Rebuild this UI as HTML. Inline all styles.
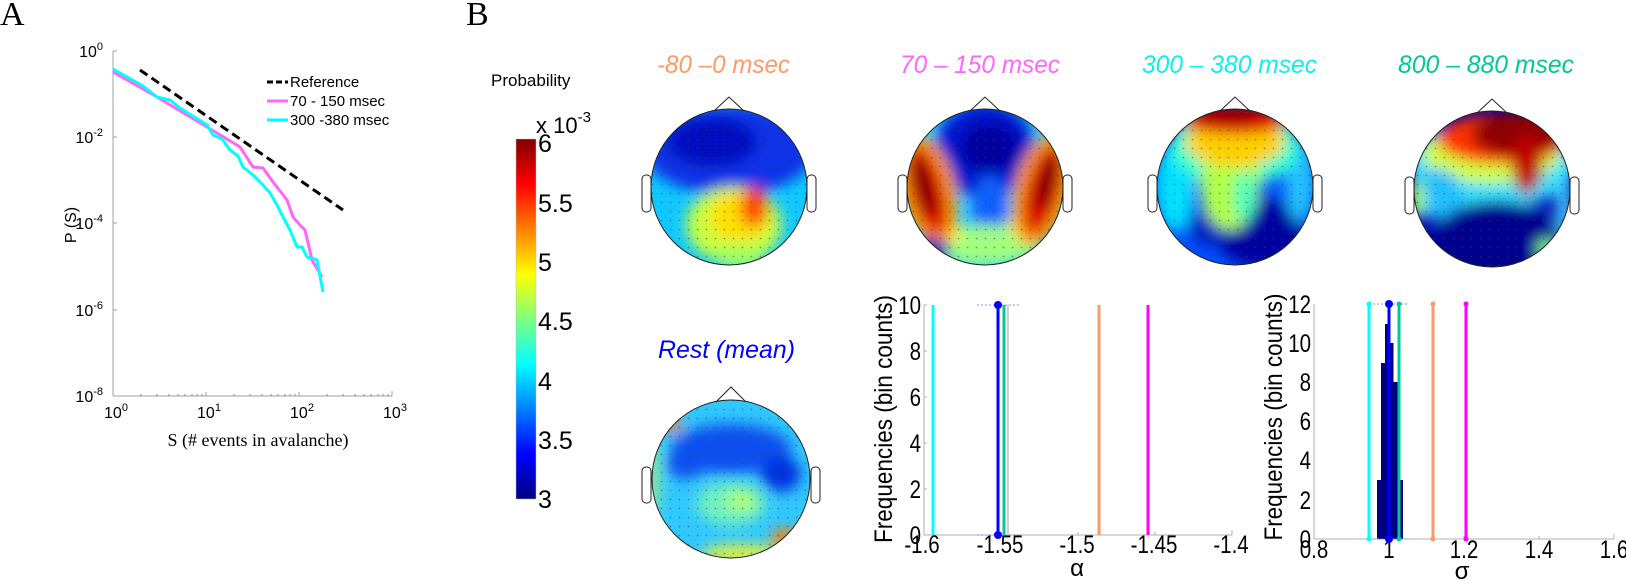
<!DOCTYPE html>
<html><head><meta charset="utf-8"><style>
html,body{margin:0;padding:0;background:#fff;}
svg{display:block;}
text{font-family:"Liberation Sans",sans-serif;}
.ser{font-family:"Liberation Serif",serif;}
.tt{font-family:"Liberation Serif",serif;font-style:italic;}
</style></head><body>
<svg width="1626" height="580" viewBox="0 0 1626 580" xmlns="http://www.w3.org/2000/svg">
<defs>
<linearGradient id="jet" x1="0" y1="1" x2="0" y2="0">
<stop offset="0" stop-color="#000080"/><stop offset="0.125" stop-color="#0000ff"/>
<stop offset="0.375" stop-color="#00ffff"/><stop offset="0.625" stop-color="#ffff00"/>
<stop offset="0.875" stop-color="#ff0000"/><stop offset="1" stop-color="#800000"/>
</linearGradient>
<filter id="bl" x="-30%" y="-30%" width="160%" height="160%"><feGaussianBlur stdDeviation="7"/></filter>
<pattern id="dots" width="9" height="9" patternUnits="userSpaceOnUse"><circle cx="4.5" cy="4.5" r="0.9" fill="#444" fill-opacity="0.55"/></pattern>
<clipPath id="c1"><circle cx="729" cy="187" r="78"/></clipPath>
<clipPath id="c2"><circle cx="985" cy="187" r="78"/></clipPath>
<clipPath id="c3"><circle cx="1235" cy="187" r="78"/></clipPath>
<clipPath id="c4"><circle cx="1492" cy="189" r="78"/></clipPath>
<clipPath id="c5"><circle cx="731" cy="479" r="79"/></clipPath>
</defs>

<!-- Panel A -->
<text x="0" y="25" class="ser" font-size="34">A</text>
<g stroke="#a0a0a0" stroke-width="1" fill="none">
<line x1="113" y1="51" x2="113" y2="396"/><line x1="113" y1="396" x2="392" y2="396"/>
<line x1="113" y1="51" x2="117" y2="51"/><line x1="113" y1="137" x2="117" y2="137"/><line x1="113" y1="223" x2="117" y2="223"/><line x1="113" y1="310" x2="117" y2="310"/>
<line x1="206" y1="396" x2="206" y2="392"/><line x1="299" y1="396" x2="299" y2="392"/><line x1="392" y1="396" x2="392" y2="391"/>
</g>
<g stroke="#888" stroke-width="1">
<line x1="141" y1="396" x2="141" y2="394"/><line x1="157" y1="396" x2="157" y2="394"/><line x1="169" y1="396" x2="169" y2="394"/><line x1="178" y1="396" x2="178" y2="394"/><line x1="185" y1="396" x2="185" y2="394"/><line x1="192" y1="396" x2="192" y2="394"/><line x1="197" y1="396" x2="197" y2="394"/><line x1="202" y1="396" x2="202" y2="394"/>
<line x1="234" y1="396" x2="234" y2="394"/><line x1="250" y1="396" x2="250" y2="394"/><line x1="262" y1="396" x2="262" y2="394"/><line x1="271" y1="396" x2="271" y2="394"/><line x1="278" y1="396" x2="278" y2="394"/><line x1="285" y1="396" x2="285" y2="394"/><line x1="290" y1="396" x2="290" y2="394"/><line x1="295" y1="396" x2="295" y2="394"/>
<line x1="327" y1="396" x2="327" y2="394"/><line x1="343" y1="396" x2="343" y2="394"/><line x1="355" y1="396" x2="355" y2="394"/><line x1="364" y1="396" x2="364" y2="394"/><line x1="371" y1="396" x2="371" y2="394"/><line x1="378" y1="396" x2="378" y2="394"/><line x1="383" y1="396" x2="383" y2="394"/><line x1="388" y1="396" x2="388" y2="394"/>
</g>
<g font-size="16" text-anchor="end">
<text x="103" y="57">10<tspan font-size="11" dy="-7">0</tspan></text>
<text x="103" y="143">10<tspan font-size="11" dy="-7">-2</tspan></text>
<text x="103" y="229">10<tspan font-size="11" dy="-7">-4</tspan></text>
<text x="103" y="316">10<tspan font-size="11" dy="-7">-6</tspan></text>
<text x="103" y="402">10<tspan font-size="11" dy="-7">-8</tspan></text>
</g>
<g font-size="16" text-anchor="middle">
<text x="116" y="418">10<tspan font-size="11" dy="-7">0</tspan></text>
<text x="209" y="418">10<tspan font-size="11" dy="-7">1</tspan></text>
<text x="302" y="418">10<tspan font-size="11" dy="-7">2</tspan></text>
<text x="395" y="418">10<tspan font-size="11" dy="-7">3</tspan></text>
</g>
<text x="258" y="446" class="ser" font-size="18" text-anchor="middle">S (# events in avalanche)</text>
<text transform="translate(76,225) rotate(-90)" font-size="16" text-anchor="middle">P (S)</text>
<line x1="140" y1="70" x2="343" y2="210" stroke="#000" stroke-width="3" stroke-dasharray="9,5"/>
<polyline fill="none" stroke="#ff66ff" stroke-width="3" points="113,72 157,97 207,127 240,147 253,167 263,168 273,182 287,200 293,217 300,225 305,230 312,260 322,277"/>
<polyline fill="none" stroke="#00ffff" stroke-width="3" points="113,69 143,86 157,97 170,100 180,108 207,125 213,135 222,139 230,150 238,156 243,167 253,175 263,185 270,193 277,205 283,217 290,230 297,247 302,247 307,257 315,259 317,260 323,292"/>
<line x1="267" y1="82" x2="288" y2="82" stroke="#000" stroke-width="3" stroke-dasharray="6,3"/>
<line x1="267" y1="101" x2="288" y2="101" stroke="#ff66ff" stroke-width="3"/>
<line x1="267" y1="120" x2="288" y2="120" stroke="#00ffff" stroke-width="3"/>
<g font-size="15"><text x="290" y="87">Reference</text><text x="290" y="106">70 - 150 msec</text><text x="290" y="125">300 -380 msec</text></g>

<!-- Panel B -->
<text x="466" y="25" class="ser" font-size="34">B</text>
<text x="491" y="86" font-size="17">Probability</text>
<text x="536" y="133" font-size="22">x 10<tspan font-size="15" dy="-11">-3</tspan></text>
<rect x="516" y="139" width="20" height="360" fill="url(#jet)" stroke="#bbb" stroke-width="0.5"/>
<g font-size="25">
<text x="538" y="152">6</text><text x="538" y="212">5.5</text><text x="538" y="271">5</text><text x="538" y="330">4.5</text><text x="538" y="390">4</text><text x="538" y="449">3.5</text><text x="538" y="508">3</text>
</g>

<!-- titles -->
<g class="tt" font-size="25">
<text x="657" y="73" fill="#ff9966" textLength="133" lengthAdjust="spacingAndGlyphs">-80 –0 msec</text>
<text x="900" y="73" fill="#ff66ff" textLength="160" lengthAdjust="spacingAndGlyphs">70 – 150 msec</text>
<text x="1142" y="73" fill="#11eeee" textLength="175" lengthAdjust="spacingAndGlyphs">300 – 380 msec</text>
<text x="1398" y="73" fill="#00c896" textLength="176" lengthAdjust="spacingAndGlyphs">800 – 880 msec</text>
<text x="658" y="358" fill="#0000ff" textLength="137" lengthAdjust="spacingAndGlyphs">Rest (mean)</text>
</g>

<!-- head 1 -->
<g clip-path="url(#c1)">
<rect x="640" y="100" width="180" height="180" fill="#10c8ff"/>
<g filter="url(#bl)">
<ellipse cx="729" cy="150" rx="85" ry="45" fill="#1030e8"/>
<ellipse cx="712" cy="142" rx="45" ry="25" fill="#0010c0"/>
<ellipse cx="734" cy="225" rx="48" ry="38" fill="#c8ff40"/>
<ellipse cx="739" cy="217" rx="30" ry="25" fill="#ffe000"/>
<ellipse cx="754" cy="207" rx="14" ry="20" fill="#ff5000"/>
<ellipse cx="757" cy="197" rx="7" ry="8" fill="#ff0000"/>
<ellipse cx="739" cy="257" rx="25" ry="12" fill="#a0ff60"/>
</g>
<rect x="640" y="100" width="180" height="180" fill="url(#dots)"/>
</g>
<!-- head 2 -->
<g clip-path="url(#c2)">
<rect x="900" y="100" width="180" height="180" fill="#20d0ff"/>
<g filter="url(#bl)">
<ellipse cx="985" cy="150" rx="50" ry="48" fill="#0018d0"/>
<ellipse cx="990" cy="148" rx="30" ry="25" fill="#0000a0"/>
<ellipse cx="990" cy="210" rx="18" ry="35" fill="#1060ff"/>
<ellipse cx="985" cy="245" rx="55" ry="20" fill="#a0ff80"/>
<ellipse cx="950" cy="232" rx="12" ry="10" fill="#ffff40"/>
<ellipse cx="1020" cy="225" rx="12" ry="10" fill="#ffff40"/>
<g transform="rotate(-15 927 190)"><ellipse cx="927" cy="190" rx="28" ry="58" fill="#ffa000"/><ellipse cx="927" cy="190" rx="17" ry="46" fill="#e00000"/><ellipse cx="925" cy="185" rx="9" ry="32" fill="#800000"/></g>
<g transform="rotate(15 1043 190)"><ellipse cx="1043" cy="190" rx="28" ry="58" fill="#ffa000"/><ellipse cx="1043" cy="190" rx="17" ry="46" fill="#e00000"/><ellipse cx="1045" cy="180" rx="9" ry="30" fill="#800000"/></g>
<ellipse cx="930" cy="250" rx="20" ry="12" fill="#0000c0"/>
</g>
<rect x="900" y="100" width="180" height="180" fill="url(#dots)"/>
</g>
<!-- head 3 -->
<g clip-path="url(#c3)">
<rect x="1150" y="100" width="180" height="180" fill="#0050ff"/>
<g filter="url(#bl)">
<ellipse cx="1260" cy="232" rx="45" ry="35" fill="#0000a0"/>
<ellipse cx="1210" cy="227" rx="20" ry="20" fill="#0020c0"/>
<ellipse cx="1175" cy="187" rx="20" ry="45" fill="#00e0ff"/>
<ellipse cx="1300" cy="182" rx="15" ry="40" fill="#20c0ff"/>
<ellipse cx="1235" cy="147" rx="65" ry="40" fill="#30ffd0"/>
<ellipse cx="1230" cy="182" rx="30" ry="48" fill="#b0ff50"/>
<ellipse cx="1235" cy="142" rx="50" ry="25" fill="#ffd000"/>
<ellipse cx="1235" cy="119" rx="55" ry="15" fill="#e00000"/>
<ellipse cx="1230" cy="112" rx="35" ry="10" fill="#900000"/>
<ellipse cx="1245" cy="197" rx="10" ry="25" fill="#40ffc0"/>
</g>
<rect x="1150" y="100" width="180" height="180" fill="url(#dots)"/>
</g>
<!-- head 4 -->
<g clip-path="url(#c4)">
<rect x="1405" y="100" width="180" height="180" fill="#0000b0"/>
<g filter="url(#bl)">
<ellipse cx="1492" cy="164" rx="85" ry="45" fill="#30e0ff"/>
<ellipse cx="1492" cy="154" rx="70" ry="30" fill="#d0ff40"/>
<ellipse cx="1502" cy="139" rx="65" ry="25" fill="#ff3000"/>
<ellipse cx="1517" cy="134" rx="45" ry="22" fill="#900000"/>
<ellipse cx="1527" cy="164" rx="15" ry="30" fill="#c00000"/>
<ellipse cx="1437" cy="194" rx="25" ry="25" fill="#20c0ff"/>
<ellipse cx="1417" cy="199" rx="8" ry="20" fill="#a0ff60"/>
<ellipse cx="1497" cy="241" rx="65" ry="40" fill="#00008f"/>
<ellipse cx="1564" cy="209" rx="8" ry="30" fill="#40d0ff"/>
<ellipse cx="1547" cy="249" rx="10" ry="10" fill="#80ff80"/>
</g>
<rect x="1405" y="100" width="180" height="180" fill="url(#dots)"/>
</g>
<!-- rest -->
<g clip-path="url(#c5)">
<rect x="645" y="395" width="180" height="180" fill="#30c8ff"/>
<g filter="url(#bl)">
<ellipse cx="731" cy="449" rx="60" ry="25" fill="#1050f0"/>
<ellipse cx="781" cy="474" rx="20" ry="18" fill="#0030e0"/>
<ellipse cx="686" cy="464" rx="20" ry="15" fill="#1050f0"/>
<ellipse cx="731" cy="504" rx="35" ry="22" fill="#70f0c0"/>
<ellipse cx="741" cy="501" rx="15" ry="10" fill="#b0ff70"/>
<ellipse cx="741" cy="554" rx="40" ry="10" fill="#e0f040"/>
<ellipse cx="786" cy="539" rx="15" ry="10" fill="#ff8000"/>
<ellipse cx="671" cy="424" rx="10" ry="8" fill="#ff8020"/>
<ellipse cx="653" cy="479" rx="6" ry="40" fill="#a0f080"/>
</g>
<rect x="645" y="395" width="180" height="180" fill="url(#dots)"/>
</g>
<!-- head outlines -->
<g fill="none" stroke="#222" stroke-width="1">
<circle cx="729" cy="187" r="78"/><polyline points="714,111 729,97 744,111"/><rect x="642" y="175" width="9" height="37" rx="4"/><rect x="807" y="175" width="9" height="37" rx="4"/>
<circle cx="985" cy="187" r="78"/><polyline points="970,111 985,97 1000,111"/><rect x="898" y="175" width="9" height="37" rx="4"/><rect x="1063" y="175" width="9" height="37" rx="4"/>
<circle cx="1235" cy="187" r="78"/><polyline points="1220,111 1235,97 1250,111"/><rect x="1148" y="175" width="9" height="37" rx="4"/><rect x="1313" y="175" width="9" height="37" rx="4"/>
<circle cx="1492" cy="189" r="78"/><polyline points="1477,113 1492,99 1507,113"/><rect x="1405" y="177" width="9" height="37" rx="4"/><rect x="1570" y="177" width="9" height="37" rx="4"/>
<circle cx="731" cy="479" r="79"/><polyline points="716,402 731,387 746,402"/><rect x="642" y="467" width="9" height="36" rx="4"/><rect x="811" y="467" width="9" height="36" rx="4"/>
</g>

<!-- Hist 1 -->
<g stroke="#b0b0b0" stroke-width="1">
<line x1="924" y1="305" x2="924" y2="535"/><line x1="924" y1="535" x2="1232" y2="535"/>
<line x1="1001" y1="535" x2="1001" y2="532"/><line x1="1078" y1="535" x2="1078" y2="532"/><line x1="1155" y1="535" x2="1155" y2="532"/><line x1="1232" y1="535" x2="1232" y2="530"/>
<line x1="924" y1="489" x2="927" y2="489"/><line x1="924" y1="443" x2="927" y2="443"/><line x1="924" y1="397" x2="927" y2="397"/><line x1="924" y1="351" x2="927" y2="351"/><line x1="924" y1="305" x2="927" y2="305"/>
</g>
<g font-size="25" text-anchor="end">
<text transform="translate(921,544) scale(0.82,1)">0</text>
<text transform="translate(921,498) scale(0.82,1)">2</text>
<text transform="translate(921,452) scale(0.82,1)">4</text>
<text transform="translate(921,406) scale(0.82,1)">6</text>
<text transform="translate(921,360) scale(0.82,1)">8</text>
<text transform="translate(921,314) scale(0.82,1)">10</text>
</g>
<g font-size="25" text-anchor="middle">
<text transform="translate(922,553) scale(0.82,1)">-1.6</text>
<text transform="translate(1000,553) scale(0.82,1)">-1.55</text>
<text transform="translate(1077,553) scale(0.82,1)">-1.5</text>
<text transform="translate(1154,553) scale(0.82,1)">-1.45</text>
<text transform="translate(1231,553) scale(0.82,1)">-1.4</text>
</g>
<text x="1077" y="576" font-size="24" text-anchor="middle">α</text>
<text transform="translate(892,419) rotate(-90)" font-size="25" text-anchor="middle" textLength="248" lengthAdjust="spacingAndGlyphs">Frequencies (bin counts)</text>
<line x1="933" y1="305" x2="933" y2="535" stroke="#00ffff" stroke-width="3"/>
<line x1="1008" y1="305" x2="1008" y2="535" stroke="#d0d0d0" stroke-width="2"/>
<line x1="1004" y1="305" x2="1004" y2="535" stroke="#00c896" stroke-width="3"/>
<line x1="1099" y1="305" x2="1099" y2="535" stroke="#ff9966" stroke-width="3"/>
<line x1="1148" y1="305" x2="1148" y2="535" stroke="#ff00ff" stroke-width="3"/>
<line x1="977" y1="305" x2="1019" y2="305" stroke="#8888ff" stroke-width="1" stroke-dasharray="2,2"/>
<line x1="977" y1="535" x2="1019" y2="535" stroke="#8888ff" stroke-width="1" stroke-dasharray="2,2"/>
<line x1="998" y1="305" x2="998" y2="535" stroke="#0000ff" stroke-width="3"/>
<circle cx="998" cy="305" r="4" fill="#0000ff"/><circle cx="998" cy="535" r="4" fill="#0000ff"/>

<!-- Hist 2 -->
<g stroke="#b0b0b0" stroke-width="1">
<line x1="1314" y1="304" x2="1314" y2="539"/><line x1="1314" y1="539" x2="1614" y2="539"/>
<line x1="1389" y1="539" x2="1389" y2="536"/><line x1="1464" y1="539" x2="1464" y2="536"/><line x1="1539" y1="539" x2="1539" y2="536"/><line x1="1614" y1="539" x2="1614" y2="534"/>
</g>
<g fill="#000080">
<rect x="1377" y="480" width="4.5" height="59"/><rect x="1381" y="363" width="4.5" height="176"/><rect x="1385" y="324" width="4.5" height="215"/><rect x="1389" y="343" width="4.5" height="196"/><rect x="1393" y="382" width="4.5" height="157"/><rect x="1397" y="480" width="6" height="59"/>
</g>
<g font-size="25" text-anchor="end">
<text transform="translate(1311,548) scale(0.82,1)">0</text>
<text transform="translate(1311,509) scale(0.82,1)">2</text>
<text transform="translate(1311,469) scale(0.82,1)">4</text>
<text transform="translate(1311,430) scale(0.82,1)">6</text>
<text transform="translate(1311,391) scale(0.82,1)">8</text>
<text transform="translate(1311,352) scale(0.82,1)">10</text>
<text transform="translate(1311,313) scale(0.82,1)">12</text>
</g>
<g font-size="25" text-anchor="middle">
<text transform="translate(1314,558) scale(0.82,1)">0.8</text>
<text transform="translate(1389,558) scale(0.82,1)">1</text>
<text transform="translate(1464,558) scale(0.82,1)">1.2</text>
<text transform="translate(1539,558) scale(0.82,1)">1.4</text>
<text transform="translate(1614,558) scale(0.82,1)">1.6</text>
</g>
<text x="1462" y="579" font-size="24" text-anchor="middle">σ</text>
<text transform="translate(1282,417) rotate(-90)" font-size="25" text-anchor="middle" textLength="247" lengthAdjust="spacingAndGlyphs">Frequencies (bin counts)</text>
<line x1="1369" y1="304" x2="1409" y2="304" stroke="#8888ff" stroke-width="1" stroke-dasharray="2,2"/>
<line x1="1369" y1="539" x2="1409" y2="539" stroke="#8888ff" stroke-width="1" stroke-dasharray="2,2"/>
<line x1="1369" y1="304" x2="1369" y2="539" stroke="#00ffff" stroke-width="3"/>
<line x1="1399" y1="304" x2="1399" y2="539" stroke="#00c896" stroke-width="3"/>
<line x1="1433" y1="304" x2="1433" y2="539" stroke="#ff9966" stroke-width="3"/>
<line x1="1466" y1="304" x2="1466" y2="539" stroke="#ff00ff" stroke-width="3"/>
<line x1="1389" y1="304" x2="1389" y2="539" stroke="#0000ff" stroke-width="3"/>
<circle cx="1389" cy="304" r="4" fill="#0000ff"/><circle cx="1389" cy="539" r="4" fill="#0000ff"/>
<circle cx="1369" cy="304" r="2.5" fill="#00ffff"/><circle cx="1369" cy="539" r="2.5" fill="#00ffff"/>
<circle cx="1399" cy="304" r="2.5" fill="#00c896"/><circle cx="1399" cy="539" r="2.5" fill="#00c896"/>
<circle cx="1433" cy="304" r="2.5" fill="#ff9966"/><circle cx="1433" cy="539" r="2.5" fill="#ff9966"/>
<circle cx="1466" cy="304" r="2.5" fill="#ff00ff"/><circle cx="1466" cy="539" r="2.5" fill="#ff00ff"/>
</svg>
</body></html>
